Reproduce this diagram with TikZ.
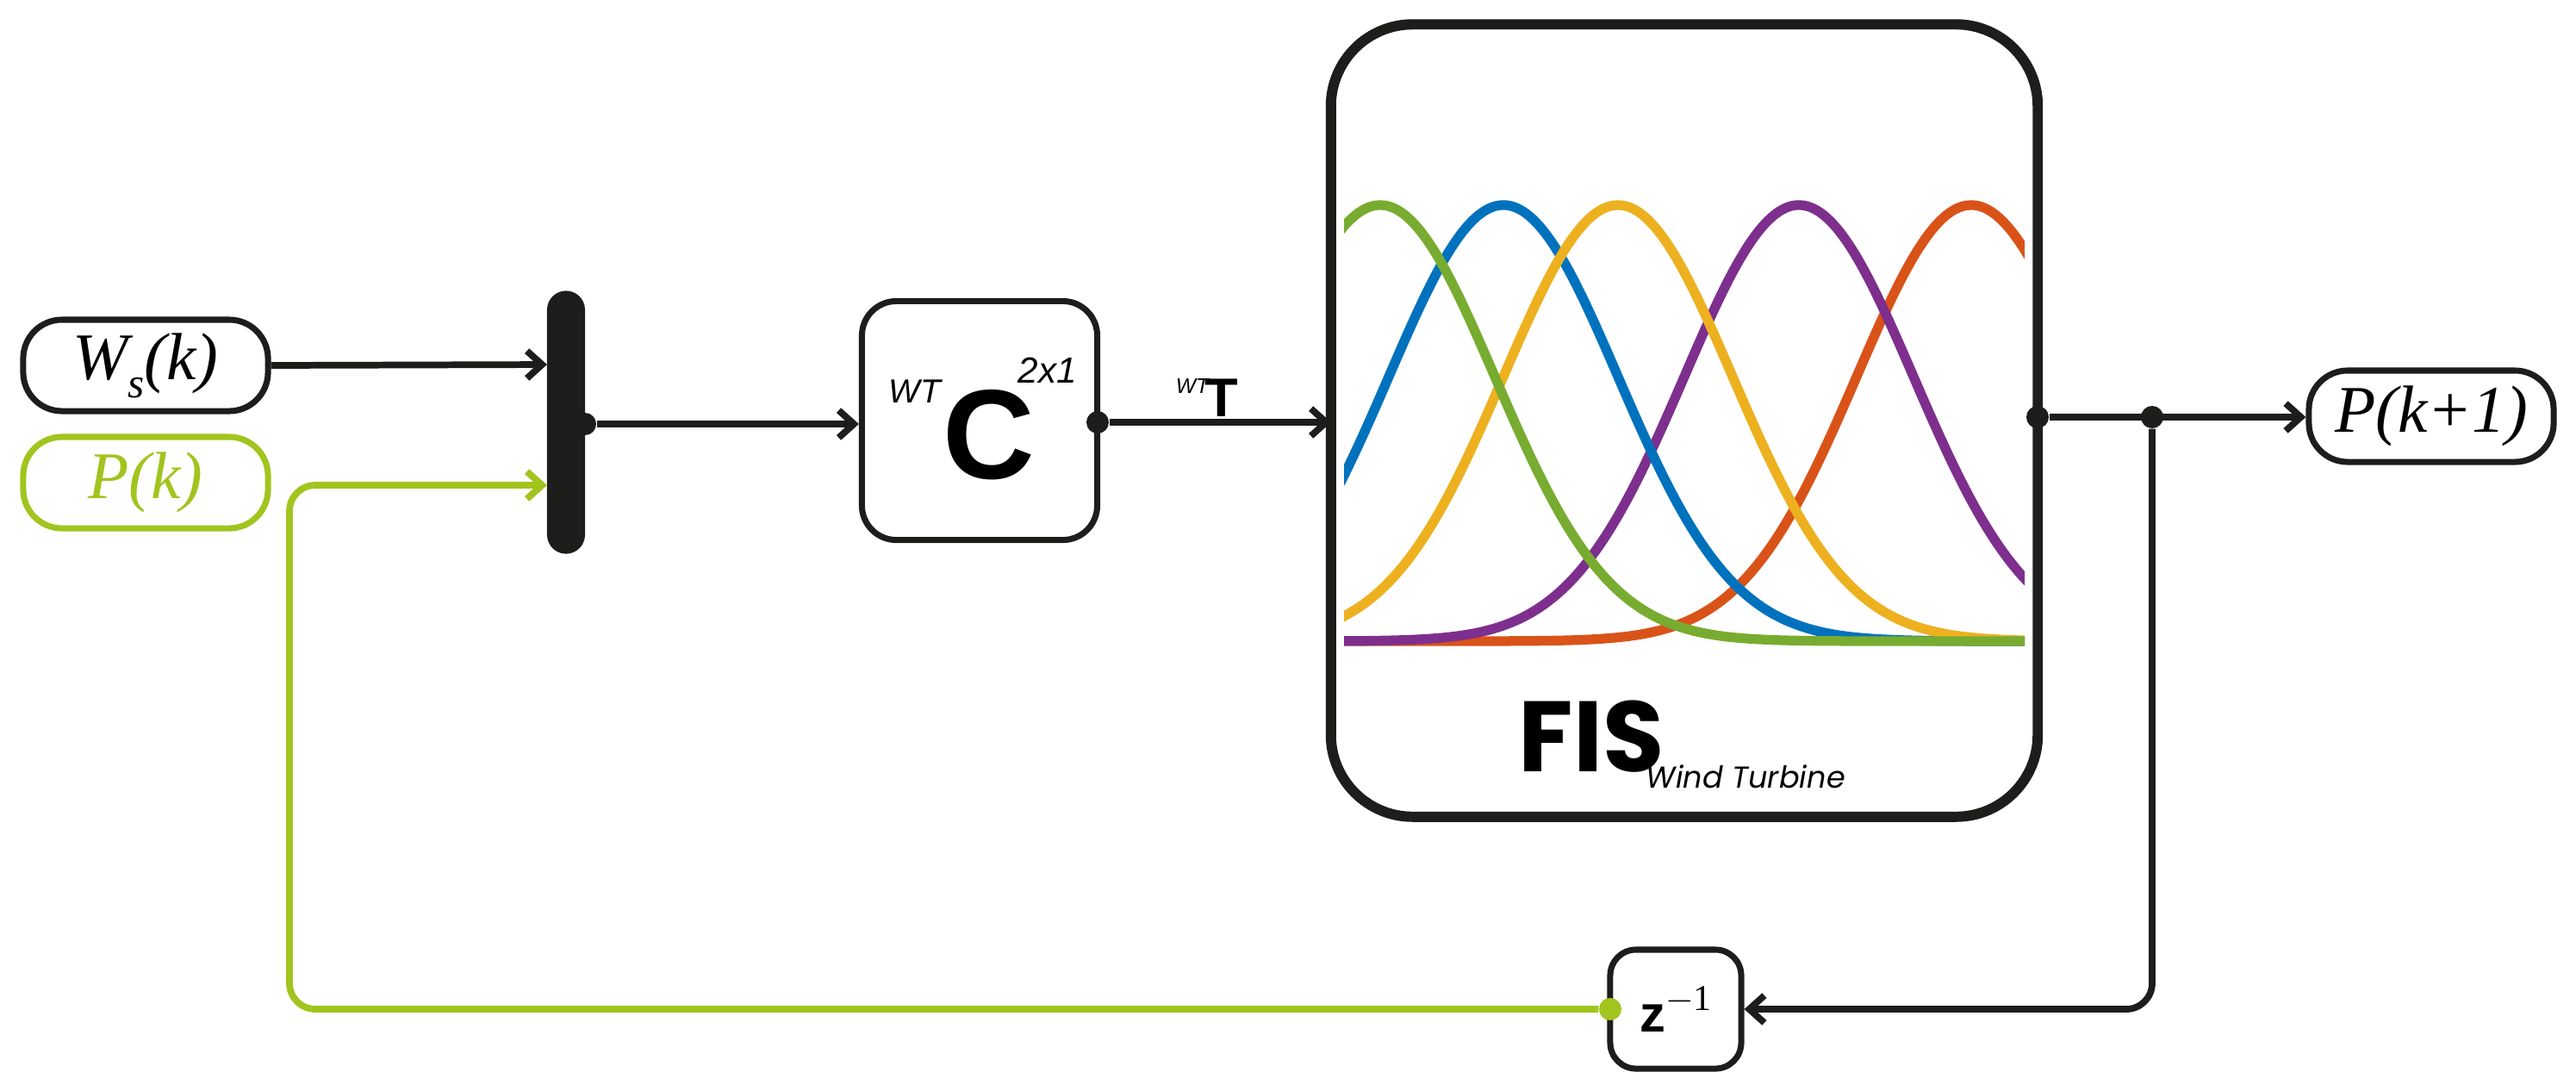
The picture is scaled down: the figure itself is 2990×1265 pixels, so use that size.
\documentclass[tikz,border=0pt]{standalone}
\usepackage{fontspec}
\newfontfamily\pop{Poppins}
\newfontfamily\lsans{Liberation Sans}
\newfontfamily\lserif{Liberation Serif}
\usetikzlibrary{arrows.meta}
\definecolor{ink}{HTML}{1D1D1B}
\definecolor{lime}{HTML}{A2C41E}
\definecolor{cg}{HTML}{77AC30}
\definecolor{cb}{HTML}{0072BD}
\definecolor{cy}{HTML}{EDB120}
\definecolor{cp}{HTML}{7E2F8E}
\definecolor{co}{HTML}{D95319}
\begin{document}
\begin{tikzpicture}[x=0.01cm,y=-0.01cm,
  term/.style={draw=ink,line width=2pt,rounded corners=0.45cm,minimum width=2.84cm,minimum height=1.06cm,inner sep=0pt},
  blk/.style={draw=ink,line width=2pt,rounded corners=0.4cm,inner sep=0pt},
  con/.style={draw=ink,line width=2.2pt,-{Straight Barb[length=5pt,width=9pt]}},
  curve/.style={line width=3.2pt,smooth,samples=120},
  dot/.style={circle,fill=ink,inner sep=0pt,minimum size=0.26cm},
  tx/.style={inner sep=0pt}]
\useasboundingbox (0,0) rectangle (2990,1265);
% terminals
\node[term] (ws) at (169,424) {\lserif\itshape\fontsize{22}{24}\selectfont W\raisebox{-6pt}{\fontsize{14}{14}\selectfont s}(k)};
\node[term,draw=lime,text=lime] (pk) at (169,560) {\lserif\itshape\fontsize{22}{24}\selectfont P(k)};
\node[term] (pk1) at (2822,483) {\lserif\itshape\fontsize{22}{24}\selectfont P(k+1)};
% mux
\node[fill=ink,rounded corners=0.22cm,minimum width=0.44cm,minimum height=3.05cm,inner sep=0pt] (mux) at (657,490) {};
\coordinate (muxA) at (635,423);
\coordinate (muxB) at (635,563);
\node[dot] (muxo) at (679,492) {};
% C block
\node[blk,minimum width=2.73cm,minimum height=2.77cm] (cb) at (1137,488) {};
\node[tx] (cc) at (1148,505) {\lsans\bfseries\fontsize{42}{44}\selectfont C};
\node[tx] (cwt) at (1062,454) {\lsans\itshape\fontsize{11}{12}\selectfont WT};
\node[tx] (c21) at (1216,430) {\lsans\itshape\fontsize{12}{13}\selectfont 2x1};
\node[dot] (co) at (1274,490) {};
\node[tx] (twt) at (1384,448) {\lsans\itshape\fontsize{7}{8}\selectfont WT};
\node[tx] (tt) at (1418,462) {\lsans\bfseries\fontsize{18}{20}\selectfont T};
% FIS
\node[draw=ink,line width=3.4pt,rounded corners=0.95cm,minimum width=8.2cm,minimum height=9.19cm,inner sep=0pt] (fis) at (1955,488) {};
\begin{scope}
\clip (1560,200) rectangle (2350,760);
\foreach \m/\c in {2288/co,2088/cp,1745/cb,1878/cy,1602/cg}{
  \draw[curve,\c] plot[domain=1555:2355] (\x,{744-506*exp(-((\x-\m)/133)^2/2)});
}
\end{scope}
\node[anchor=base west,tx] (fist) at (1762,895) {\pop\bfseries\fontsize{33}{35}\selectfont FIS};
\node[anchor=base west,tx] (wt) at (1910,914) {\pop\itshape\fontsize{10}{12}\selectfont Wind Turbine};
\node[dot] (fo) at (2365,484) {};
\node[dot] (j) at (2498,484) {};
% delay
\node[blk,rounded corners=0.3cm,minimum width=1.52cm,minimum height=1.38cm] (z) at (1945,1171) {\lsans\bfseries\fontsize{17}{18}\selectfont z\raisebox{7pt}{\lserif\mdseries\fontsize{12}{12}\selectfont $-$1}};
\node[circle,fill=lime,inner sep=0pt,minimum size=0.26cm] (zi) at (1869,1171) {};
% connectors
\draw[con] (ws.east) -- (muxA);
\draw[con,draw=lime,rounded corners=0.3cm] (zi) -- (336,1171) -- (336,563) -- (muxB);
\draw[con] (muxo) -- (cb.west |- muxo);
\draw[con] (co) -- (1545,490);
\draw[con] (fo) -- (pk1.west |- fo);
\draw[con,rounded corners=0.3cm] (j) -- (2498,1171) -- (z.east);
\end{tikzpicture}
\end{document}
